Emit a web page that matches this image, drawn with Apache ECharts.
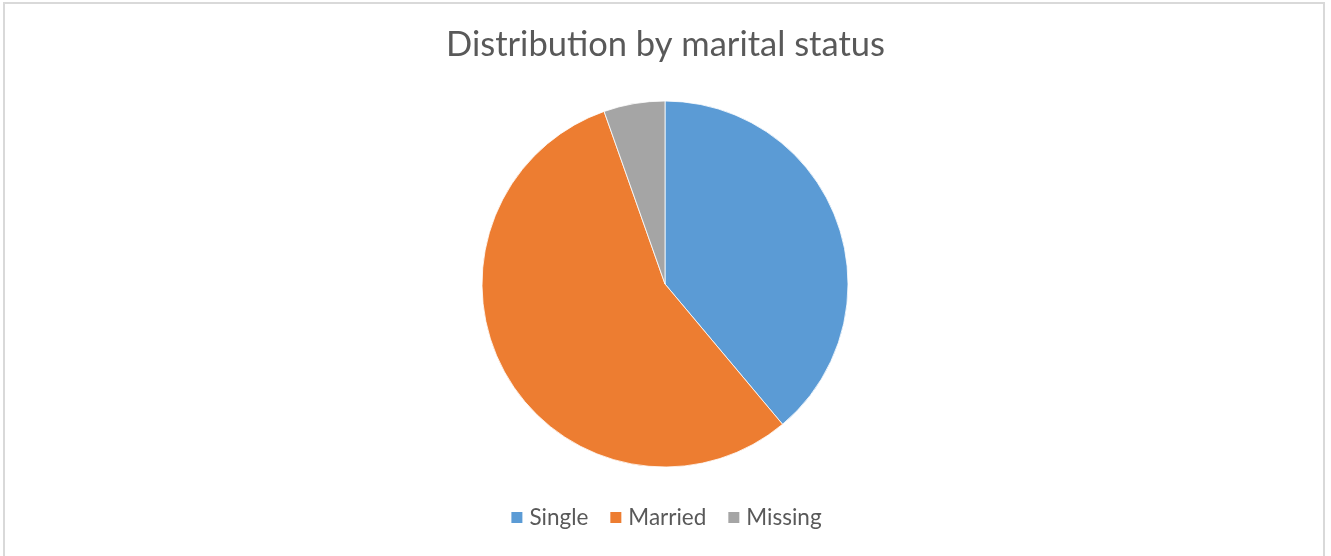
<!DOCTYPE html>
<html>
<head>
<meta charset="utf-8">
<script src="https://cdn.jsdelivr.net/npm/echarts@6/dist/echarts.min.js"></script>
<style>
html,body{margin:0;padding:0;background:#fff;}
#wrap{position:absolute;left:3px;top:2px;width:1322px;height:560px;border:2px solid #d9d9d9;box-sizing:border-box;}
#chart{position:absolute;left:0;top:0;width:1331px;height:556px;}
</style>
</head>
<body>
<div id="wrap"></div>
<div id="chart"></div>
<script>
const categories = ["Single", "Married", "Missing"];
const values = [38.9, 55.7, 5.4];
const colors = ["#5B9BD5", "#ED7D31", "#A5A5A5"];

const chart = echarts.init(document.getElementById('chart'), null, {renderer: 'canvas'});
chart.setOption({
  animation: false,
  backgroundColor: 'transparent',
  title: {
    text: 'Distribution by marital status',
    left: 'center',
    top: 22,
    textStyle: {fontFamily: 'Lato', fontSize: 34.5, fontWeight: 'normal', color: '#595959'}
  },
  legend: {
    data: categories,
    bottom: 22,
    left: 'center',
    itemWidth: 13,
    itemHeight: 13,
    itemGap: 20,
    icon: 'rect',
    textStyle: {fontFamily: 'Lato', fontSize: 22.5, color: '#595959', padding: [0,0,0,1]}
  },
  series: [{
    type: 'pie',
    center: [665, 284],
    radius: 183,
    startAngle: 90,
    clockwise: true,
    label: {show: false},
    labelLine: {show: false},
    itemStyle: {borderColor: '#fff', borderWidth: 0.8},
    data: categories.map((c, i) => ({name: c, value: values[i], itemStyle: {color: colors[i]}}))
  }]
});
</script>
</body>
</html>
